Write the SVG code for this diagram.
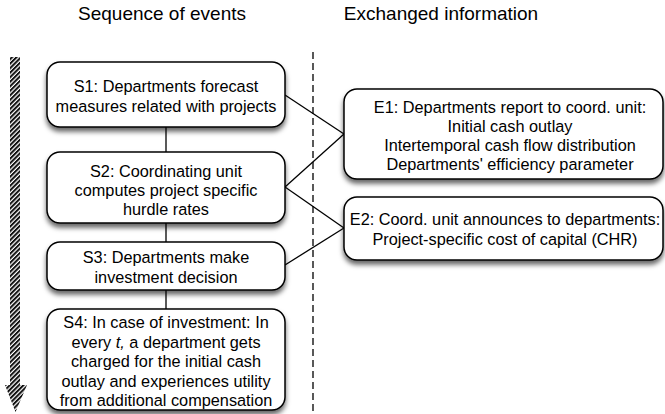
<svg xmlns="http://www.w3.org/2000/svg" width="665" height="414" viewBox="0 0 665 414">
  <style>
    text { font-family: "Liberation Sans", Arial, Helvetica, sans-serif; fill: #000; }
    .title { font-size: 19px; text-anchor: middle; }
    .lbl { font-size: 16.3px; text-anchor: middle; }
    .box { fill: #fff; stroke: #000; stroke-width: 1.5; filter: url(#shadow); }
    .link { stroke: #000; stroke-width: 1.3; fill: none; }
    .divider { stroke: #000; stroke-width: 1.3; stroke-dasharray: 7 4; fill: none; }
  </style>
  <defs>
    <filter id="shadow" x="-10%" y="-20%" width="120%" height="150%">
      <feDropShadow dx="0" dy="4" stdDeviation="2.5" flood-color="#000" flood-opacity="0.6"/>
    </filter>
    <pattern id="hatch" patternUnits="userSpaceOnUse" width="3.2" height="3.2" patternTransform="rotate(45)">
      <rect x="0" y="0" width="2" height="3.2" fill="#111"/>
    </pattern>
  </defs>

  <rect width="665" height="414" fill="#fff"/>

  <!-- column headings -->
  <text class="title" x="162" y="20">Sequence of events</text>
  <text class="title" x="441" y="20">Exchanged information</text>

  <!-- time axis: hatched downward arrow -->
  <path d="M10,57 H20 V385 H27 L15.5,412 L5,385 H10 Z" fill="url(#hatch)"/>

  <!-- column divider -->
  <line class="divider" x1="313" y1="52" x2="313" y2="414"/>

  <!-- connectors -->
  <g id="connectors">
    <line class="link" x1="166" y1="127" x2="166" y2="152"/>
    <line class="link" x1="166" y1="223" x2="166" y2="242"/>
    <line class="link" x1="166" y1="290" x2="166" y2="309"/>
    <line class="link" x1="285" y1="95" x2="344" y2="134"/>
    <line class="link" x1="285" y1="187" x2="344" y2="134"/>
    <line class="link" x1="285" y1="187" x2="344" y2="228"/>
    <line class="link" x1="285" y1="265" x2="344" y2="228"/>
  </g>

  <!-- sequence steps -->
  <g id="s1">
    <rect class="box" x="47" y="62" width="238" height="65" rx="13"/>
    <text class="lbl" x="166" y="92">S1: Departments forecast</text>
    <text class="lbl" x="166" y="112">measures related with projects</text>
  </g>
  <g id="s2">
    <rect class="box" x="47" y="152" width="238" height="71" rx="13"/>
    <text class="lbl" x="166" y="177">S2: Coordinating unit</text>
    <text class="lbl" x="166" y="196">computes project specific</text>
    <text class="lbl" x="166" y="215">hurdle rates</text>
  </g>
  <g id="s3">
    <rect class="box" x="47" y="242" width="238" height="48" rx="13"/>
    <text class="lbl" x="166" y="263">S3: Departments make</text>
    <text class="lbl" x="166" y="283">investment decision</text>
  </g>
  <g id="s4">
    <rect class="box" x="47" y="309" width="238" height="101" rx="13"/>
    <text class="lbl" x="166" y="328">S4: In case of investment: In</text>
    <text class="lbl" x="166" y="347.5">every <tspan font-style="italic">t,</tspan> a department gets</text>
    <text class="lbl" x="166" y="367">charged for the initial cash</text>
    <text class="lbl" x="166" y="386.5">outlay and experiences utility</text>
    <text class="lbl" x="166" y="406">from additional compensation</text>
  </g>

  <!-- exchanged information -->
  <g id="e1">
    <rect class="box" x="344" y="89" width="319" height="90" rx="13"/>
    <text class="lbl" x="510" y="113">E1: Departments report to coord. unit:</text>
    <text class="lbl" x="510" y="132">Initial cash outlay</text>
    <text class="lbl" x="510" y="151">Intertemporal cash flow distribution</text>
    <text class="lbl" x="510" y="170">Departments' efficiency parameter</text>
  </g>
  <g id="e2">
    <rect class="box" x="344" y="197" width="319" height="63" rx="13"/>
    <text class="lbl" x="505" y="225">E2: Coord. unit announces to departments:</text>
    <text class="lbl" x="505" y="245">Project-specific cost of capital (CHR)</text>
  </g>
</svg>
